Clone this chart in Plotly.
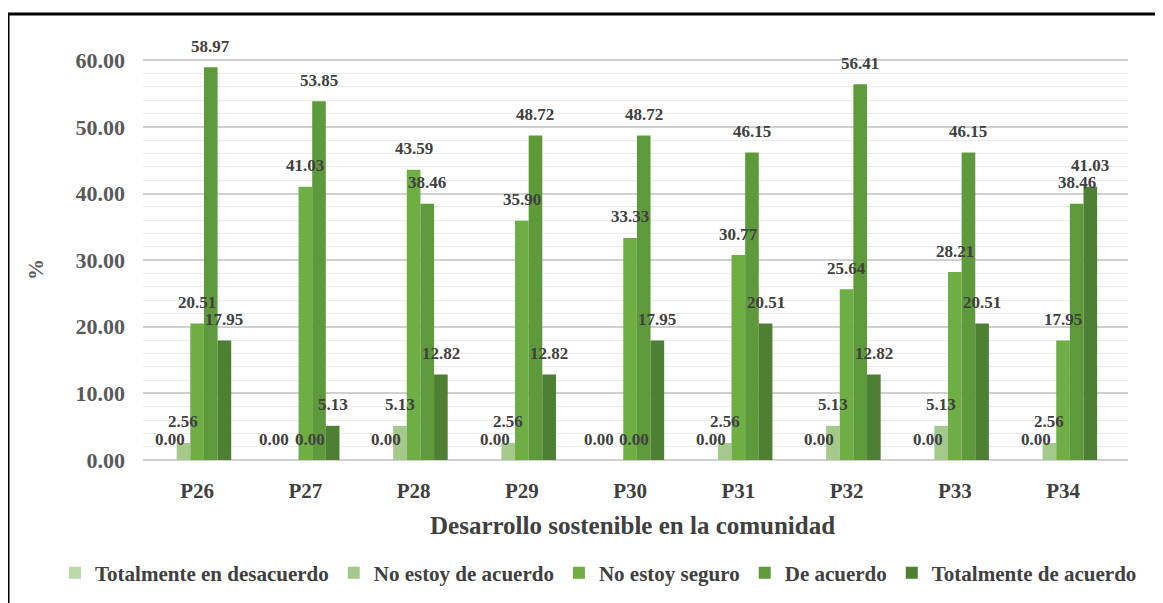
import plotly.graph_objects as go

categories = ["P26", "P27", "P28", "P29", "P30", "P31", "P32", "P33", "P34"]
series_names = ["Totalmente en desacuerdo", "No estoy de acuerdo", "No estoy seguro",
                "De acuerdo", "Totalmente de acuerdo"]
totalmente_desacuerdo = [0.00, 0.00, 0.00, 0.00, 0.00, 0.00, 0.00, 0.00, 0.00]
no_de_acuerdo = [2.56, 0.00, 5.13, 2.56, 0.00, 2.56, 5.13, 5.13, 2.56]
no_seguro = [20.51, 41.03, 43.59, 35.90, 33.33, 30.77, 25.64, 28.21, 17.95]
de_acuerdo = [58.97, 53.85, 38.46, 48.72, 48.72, 46.15, 56.41, 46.15, 38.46]
totalmente_acuerdo = [17.95, 5.13, 12.82, 12.82, 17.95, 20.51, 12.82, 20.51, 41.03]
y_ticks = [0, 10, 20, 30, 40, 50, 60]

colors = ["#bcdaa8", "#a5c98a", "#6fae45", "#5e9a3c", "#4f7f32"]
all_series = [totalmente_desacuerdo, no_de_acuerdo, no_seguro, de_acuerdo, totalmente_acuerdo]

FONT = "Liberation Serif, Times New Roman, serif"
LBL = dict(family=FONT, size=17, color="#404040", weight="bold")
BARGAP = 0.37
nser = len(all_series)
bw = (1 - BARGAP) / nser  # width of one bar in category units

fig = go.Figure()
annotations = []
for k, (name, vals, col) in enumerate(zip(series_names, all_series, colors)):
    fig.add_trace(go.Bar(
        x=categories, y=vals, name=name,
        marker=dict(color=col, line=dict(width=0)),
    ))
    for i, v in enumerate(vals):
        # when the first two series are both zero, their labels sit side by side (as in the source)
        both_zero = all_series[0][i] == 0 and all_series[1][i] == 0
        xs = (-4 if k == 0 else 18 if k == 1 else 0) if both_zero else 0
        annotations.append(dict(x=i + (k - (nser - 1) / 2) * bw, y=v, xref="x", yref="y",
                                text=f"{v:.2f}", showarrow=False, xanchor="center",
                                yanchor="middle", xshift=xs, yshift=21, font=LBL))

# page has an 8px body margin; coordinates below are screen pixels
OFF = 8
W, H = 1163 - OFF, 603 - OFF
L, T = 143 - OFF, 47 - OFF
R = W - (1128 - OFF)
B = H - (460 - OFF)
pw, ph = W - L - R, H - T - B
def px(x): return (x - OFF - L) / pw
def py(y): return (H - B - (y - OFF)) / ph

annotations += [
    dict(text="Desarrollo sostenible en la comunidad", x=px(632), y=py(525),
         xref="paper", yref="paper", showarrow=False, xanchor="center", yanchor="middle",
         font=dict(family=FONT, size=25, color="#404040", weight="bold")),
    dict(text="%", x=px(36), y=py(270), xref="paper", yref="paper", textangle=-90,
         showarrow=False, xanchor="center", yanchor="middle",
         font=dict(family=FONT, size=21, color="#595959", weight="bold")),
]

fig.update_layout(
    width=W, height=H,
    margin=dict(l=L, r=R, t=T, b=B, autoexpand=False),
    paper_bgcolor="white", plot_bgcolor="white",
    barmode="group", bargap=BARGAP, bargroupgap=0,
    font=dict(family=FONT, color="#595959"),
    showlegend=True,
    legend=dict(orientation="h", xref="paper", yref="paper",
                x=px(55), xanchor="left", y=py(573), yanchor="middle",
                font=dict(family=FONT, size=21, color="#404040", weight="bold"),
                itemwidth=30, tracegroupgap=0, traceorder="normal"),
    xaxis=dict(range=[-0.5, 8.6],
               tickfont=dict(family=FONT, size=21, color="#404040", weight="bold"),
               ticklabelstandoff=16, showline=False, showgrid=False),
    yaxis=dict(range=[0, 62], tickvals=y_ticks, tickformat=".2f",
               tickfont=dict(family=FONT, size=22, color="#595959", weight="bold"),
               ticklabelstandoff=17,
               showgrid=True, gridcolor="#d0d0d0", gridwidth=1.5,
               minor=dict(dtick=2, showgrid=True, gridcolor="#ececec", gridwidth=1),
               zeroline=True, zerolinecolor="#d0d0d0", showline=False),
    annotations=annotations,
    shapes=[
        dict(type="line", xref="paper", yref="paper", x0=px(8), x1=px(1175), y0=py(14), y1=py(14),
             line=dict(color="black", width=3)),
        dict(type="line", xref="paper", yref="paper", x0=px(8), x1=px(8), y0=py(14), y1=py(615),
             line=dict(color="black", width=3)),
    ],
)

fig.write_html("out.html")
